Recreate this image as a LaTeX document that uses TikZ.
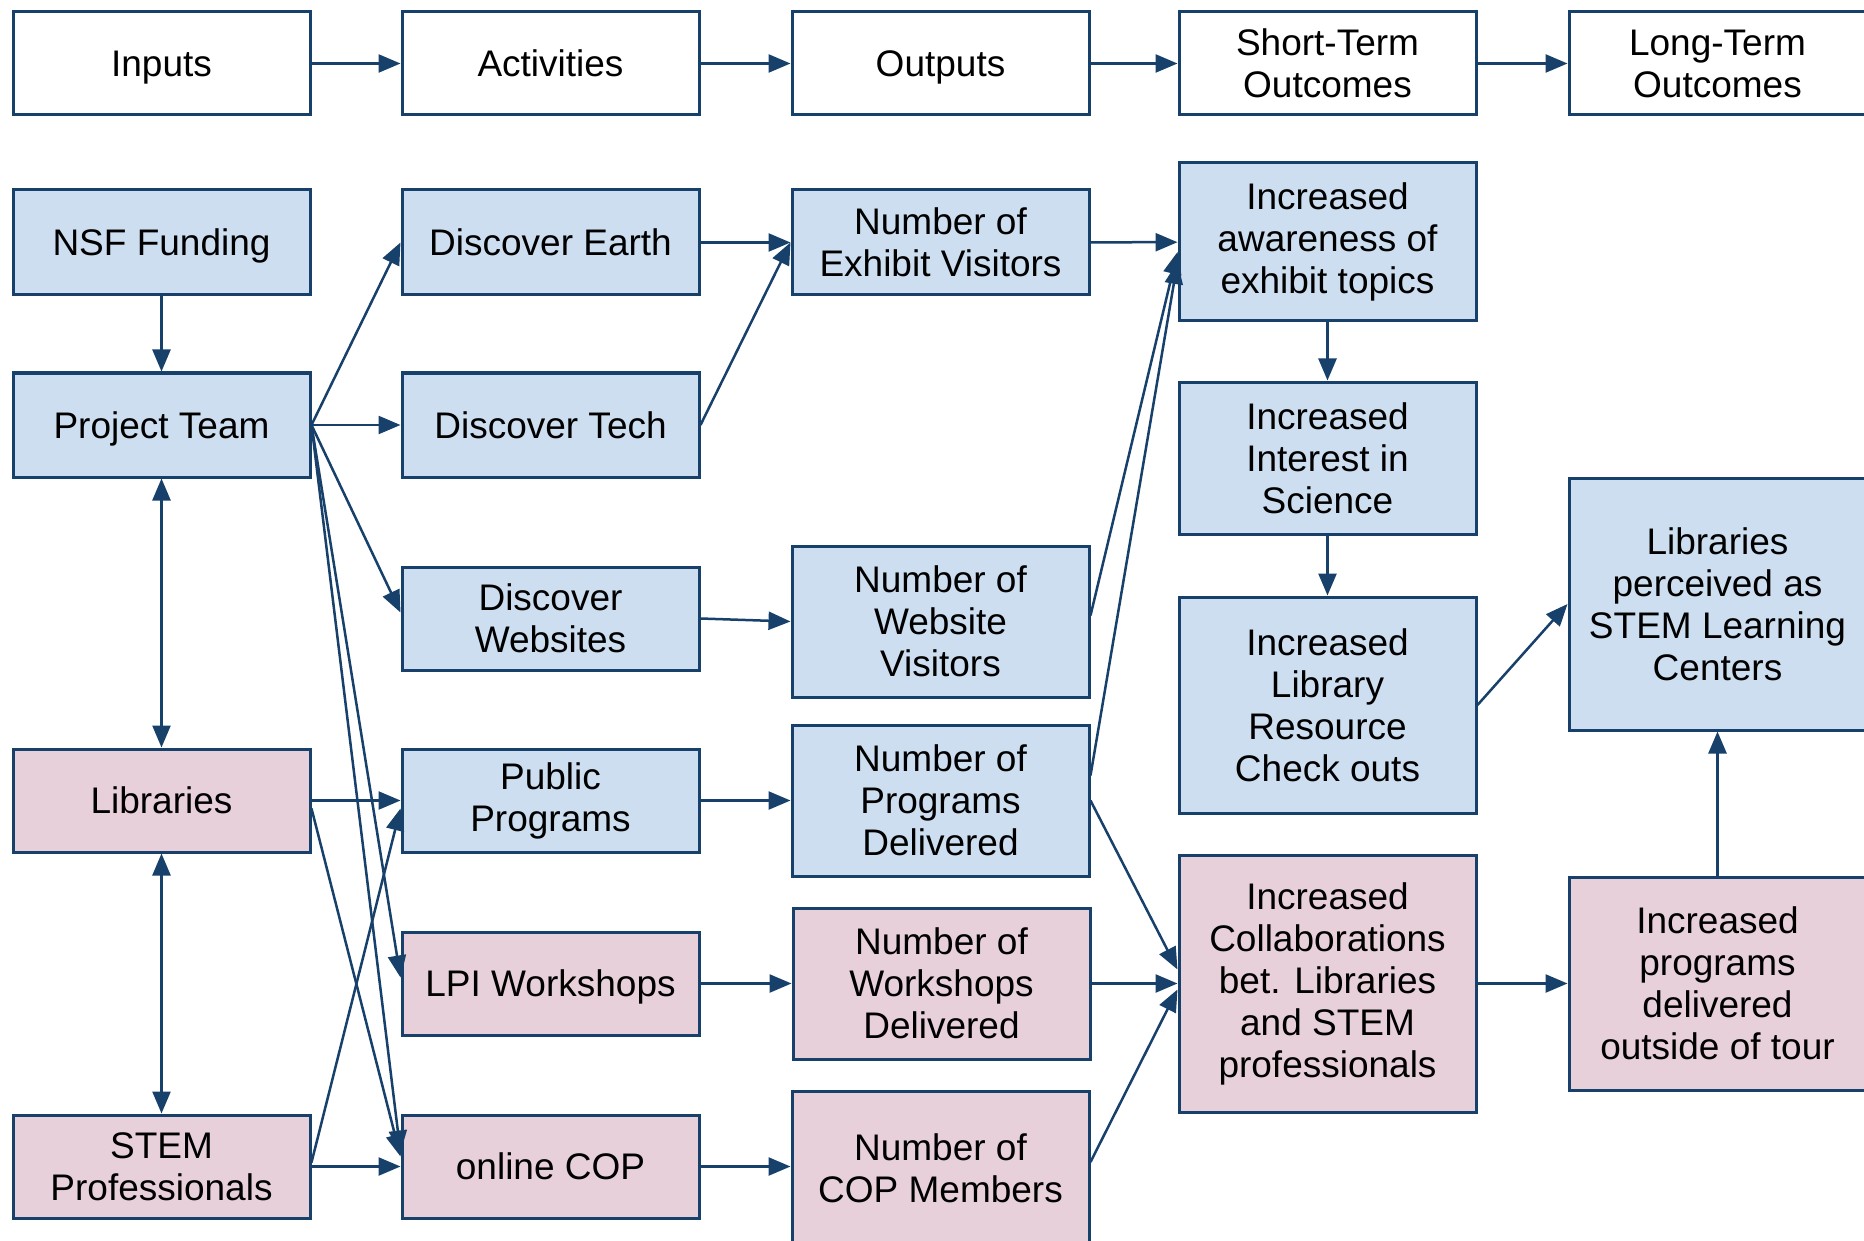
\documentclass[tikz,border=0pt]{standalone}
\usepackage{fontspec}
\setmainfont{Liberation Sans}
\usetikzlibrary{arrows.meta}
\definecolor{bfill}{HTML}{CCDEF0}
\definecolor{pfill}{HTML}{E8D0DA}
\definecolor{edgec}{HTML}{17406B}
\begin{document}
\begin{tikzpicture}[x=0.5pt,y=-0.5pt,
 bx/.style={draw=edgec,line width=1.5pt,minimum width=148.5pt,align=center,inner sep=2pt,font=\fontsize{18.5}{21}\selectfont,text=black},
 one/.style={text height=13.2pt,text depth=0pt},
 hdr/.style={bx,fill=white,minimum height=51.5pt},
 bl/.style={bx,fill=bfill},
 pk/.style={bx,fill=pfill},
 arr/.style={draw=edgec,line width=1.25pt,-{Triangle[length=11pt,width=9pt]}},
 darr/.style={draw=edgec,line width=1.25pt,{Triangle[length=11pt,width=9pt]}-{Triangle[length=11pt,width=9pt]}}]
\clip (0,0) rectangle (1864,1241);
\fill[white] (0,0) rectangle (1864,1241);
% header
\node[hdr,one] (in)  at (161.5,63.5)  {Inputs};
\node[hdr,one] (act) at (550.5,63.5)  {Activities};
\node[hdr,one] (out) at (940.5,63.5)  {Outputs};
\node[hdr] (st)  at (1327.5,63.5) {Short-Term\\Outcomes};
\node[hdr] (lt)  at (1717.5,63.5) {Long-Term\\Outcomes};
% inputs
\node[bl,one,minimum height=52.5pt] (nsf) at (161.5,242.5) {NSF Funding};
\node[bl,one,minimum height=52pt] (pt) at (161.5,425) {Project Team};
\node[pk,one,minimum height=51.5pt] (lib) at (161.5,800.5) {Libraries};
\node[pk,minimum height=51.5pt] (stem) at (161.5,1166.5) {STEM\\Professionals};
% activities
\node[bl,one,minimum height=52.5pt] (de) at (550.5,242.5) {Discover Earth};
\node[bl,one,minimum height=52pt] (dt) at (550.5,425) {Discover Tech};
\node[bl,minimum height=51.5pt] (dw) at (550.5,618.5) {Discover\\Websites};
\node[bl,minimum height=51.5pt] (pp) at (550.5,800.5) {Public\\Programs};
\node[pk,one,minimum height=51.5pt] (lpi) at (550.5,983.5) {LPI Workshops};
\node[pk,one,minimum height=51.5pt] (cop) at (550.5,1166.5) {online COP};
% outputs
\node[bl,minimum height=52.5pt] (nex) at (940.5,242.5) {Number of\\Exhibit Visitors};
\node[bl,minimum height=75.5pt] (nweb) at (940.5,621.5) {Number of\\Website\\Visitors};
\node[bl,minimum height=75.5pt] (nprog) at (940.5,800.5) {Number of\\Programs\\Delivered};
\node[pk,minimum height=75.5pt] (nwork) at (941.5,983.5) {Number of\\Workshops\\Delivered};
\node[pk,minimum height=77pt] (ncop) at (940.5,1168) {Number of\\COP Members};
% short-term
\node[bl,minimum height=79pt] (aw) at (1327.5,242) {Increased\\awareness of\\exhibit topics};
\node[bl,minimum height=76pt] (ii) at (1327.5,458) {Increased\\Interest in\\Science};
\node[bl,minimum height=108pt] (il) at (1327.5,705) {Increased\\Library\\Resource\\Check outs};
\node[pk,minimum height=128.5pt] (ic) at (1327.5,983.5) {Increased\\Collaborations\\bet. Libraries\\and STEM\\professionals};
% long-term
\node[bl,minimum height=126pt] (lp) at (1717.5,604) {Libraries\\perceived as\\STEM Learning\\Centers};
\node[pk,minimum height=106.5pt] (ip) at (1717.5,983.5) {Increased\\programs\\delivered\\outside of tour};
% header arrows
\draw[arr] (in) -- (act);
\draw[arr] (act) -- (out);
\draw[arr] (out) -- (st);
\draw[arr] (st) -- (lt);
% inputs
\draw[arr] (nsf) -- (pt);
\draw[darr] (pt) -- (lib);
\draw[darr] (lib) -- (stem);
\draw[arr] (pt.east) -- (de.west);
\draw[arr] (pt.east) -- (dt.west);
\draw[arr] (pt.east) -- ([yshift=3pt]dw.west);
\draw[arr] (pt.east) -- ([yshift=3pt]lpi.west);
\draw[arr] (pt.east) -- ([yshift=7pt]cop.west);
\draw[arr] (lib.east) -- (pp.west);
\draw[arr] ([yshift=-4pt]lib.east) -- ([yshift=5pt]cop.west);
\draw[arr] ([yshift=2pt]stem.east) -- ([yshift=-4pt]pp.west);
\draw[arr] (stem.east) -- (cop.west);
% activities to outputs
\draw[arr] (de) -- (nex);
\draw[arr] (dt.east) -- (nex.west);
\draw[arr] (dw.east) -- (nweb.west);
\draw[arr] (pp) -- (nprog);
\draw[arr] (lpi) -- (nwork);
\draw[arr] (cop.east) -- (cop.east -| ncop.west);
% outputs to short-term
\draw[arr] (nex) -- (aw);
\draw[arr] ([yshift=3pt]nweb.east) -- ([yshift=-5pt]aw.west);
\draw[arr] ([yshift=12.5pt]nprog.east) -- ([yshift=-10pt]aw.west);
\draw[arr] (nprog.east) -- ([yshift=7pt]ic.west);
\draw[arr] (nwork.east) -- (ic.west);
\draw[arr] ([yshift=3pt]ncop.east) -- ([yshift=-3pt]ic.west);
% short-term chain
\draw[arr] (aw) -- (ii);
\draw[arr] (ii) -- (il);
\draw[arr] (il.east) -- (lp.west);
\draw[arr] (ic) -- (ip);
\draw[arr] (ip) -- (lp);
\end{tikzpicture}
\end{document}
